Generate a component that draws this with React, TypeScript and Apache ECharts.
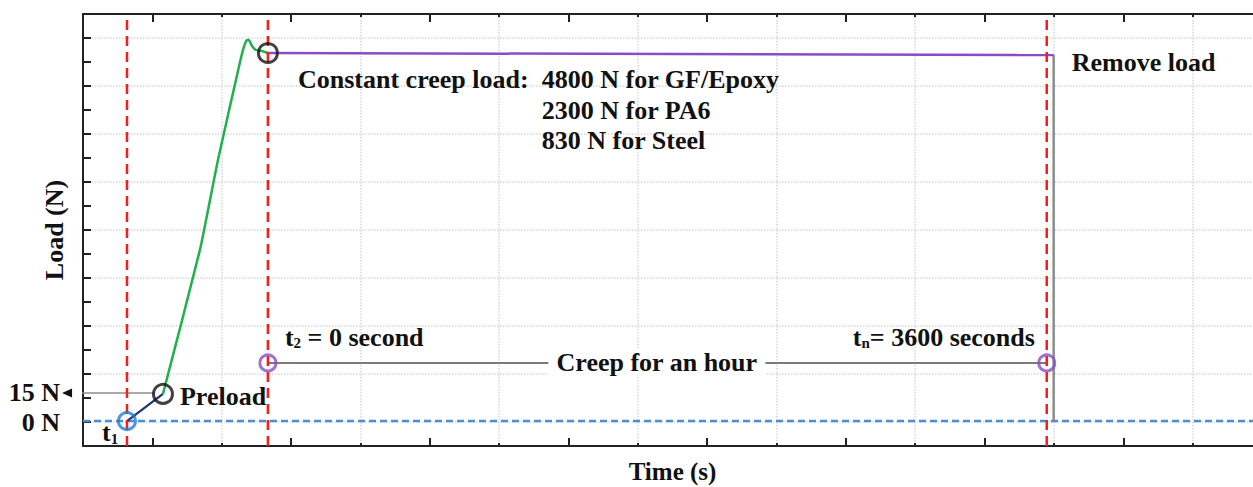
import React, { useEffect, useRef } from "react";
import * as echarts from "echarts";

// ---- axis ranges (schematic units) ----
const X_MAX = 850;
const X_INTERVAL = 100;
const Y_MAX = 18;
const Y_INTERVAL = 2;

// ---- data ----
const markerTimes = [31.7, 133.3, 694.8]; // red dashed verticals
const zeroLoadLevel = 1.04; // 0 N
const preloadX = [31.7, 57.66];
const preloadY = [1.04, 2.17];
const rampX = [57.66, 84.3, 97.3, 113.2, 116.0, 118.2, 119.6, 121.8, 124.7, 129.0, 133.3];
const rampY = [2.17, 8.17, 11.92, 16.0, 16.63, 16.92, 16.92, 16.67, 16.5, 16.46, 16.375];
const holdX = [133.3, 699.8];
const holdY = [16.375, 16.29];
const unloadX = [699.8, 699.8];
const unloadY = [16.29, 1.04];
const creepX = [133.3, 694.8];
const creepLevel = 3.46;
const preloadArrowX = [51.9, -11.5];
const preloadArrowLevel = 2.21;
const blackCircles = [[57.66, 2.17], [133.3, 16.375]];
const blueCircles = [[31.7, 1.04]];
const purpleCircles = [[133.3, 3.46], [694.8, 3.46]];

// ---- annotation texts ----
const annotations = [
  { text: "Constant creep load:", x: 155, y: 15.29, align: "left" },
  { text: "4800 N for GF/Epoxy", x: 330.8, y: 15.29, align: "left" },
  { text: "2300 N for PA6", x: 330.8, y: 14.0, align: "left" },
  { text: "830 N for Steel", x: 330.8, y: 12.71, align: "left" },
  { text: "Remove load", x: 712.8, y: 15.96, align: "left" },
  { text: "{m|t}{s|2}{m| = 0 second}", x: 145.6, y: 4.54, align: "left" },
  { text: "{m|t}{s|n}{m|= 3600 seconds}", x: 555, y: 4.54, align: "left" },
  { text: "Creep for an hour", x: 413.7, y: 3.46, align: "center", bg: true },
  { text: "Preload", x: 69.9, y: 2.08, align: "left" },
  { text: "15 N", x: -16.6, y: 2.21, align: "right" },
  { text: "0 N", x: -16.6, y: 1.0, align: "right" },
  { text: "{m|t}{s|1}", x: 13.7, y: 0.55, align: "left" },
];

const FONT = '"Liberation Serif", "Times New Roman", serif';
const FS = 26;
const zip = (xs: number[], ys: number[]) => xs.map((x, i) => [x, ys[i]]);

export default function App() {
  const ref = useRef<HTMLDivElement>(null);
  useEffect(() => {
    const chart = echarts.init(ref.current!, null, { renderer: "svg" });
    const lineSeries = (data: any[], color: string, width: number, extra: any = {}) => ({
      type: "line",
      data,
      showSymbol: false,
      symbol: "none",
      lineStyle: { color, width },
      clip: false,
      silent: true,
      ...extra,
    });
    const circleSeries = (data: number[][], color: string, size: number) => ({
      type: "scatter",
      data,
      symbol: "circle",
      symbolSize: size,
      itemStyle: { color: "rgba(0,0,0,0)", borderColor: color, borderWidth: 3 },
      z: 10,
      silent: true,
      clip: false,
    });
    const tickAxisCommon = {
      type: "value",
      min: 0,
      max: X_MAX,
      interval: X_INTERVAL,
      axisLabel: { show: false },
      axisLine: { show: true, onZero: false, lineStyle: { color: "#222", width: 2 } },
      axisTick: { show: true, inside: true, length: 3, lineStyle: { color: "#222", width: 2 } },
      minorTick: { show: true, splitNumber: 2, length: 8, lineStyle: { color: "#222", width: 2 } },
    };
    const option: any = {
      animation: false,
      grid: { left: 83, top: 14, right: 0, bottom: 41, containLabel: false, outerBoundsMode: "none" },
      xAxis: [
        {
          ...tickAxisCommon,
          position: "bottom",
          name: "Time (s)",
          nameLocation: "middle",
          nameGap: 13,
          nameTextStyle: {
            fontFamily: FONT,
            fontWeight: "bold",
            fontSize: 25,
            lineHeight: 25,
            color: "#111",
            verticalAlign: "top",
          },
          splitLine: { show: true, lineStyle: { color: "#d6d6d6", type: "dotted", width: 1.5 } },
        },
        {
          ...tickAxisCommon,
          position: "top",
          splitLine: { show: false },
        },
      ],
      yAxis: {
        type: "value",
        min: 0,
        max: Y_MAX,
        interval: Y_INTERVAL,
        name: "Load (N)",
        nameLocation: "middle",
        nameGap: 16,
        nameTextStyle: { fontFamily: FONT, fontWeight: "bold", fontSize: FS, color: "#111" },
        axisLabel: { show: false },
        axisLine: { show: true, lineStyle: { color: "#222", width: 2 } },
        axisTick: { show: true, inside: true, length: 8, lineStyle: { color: "#222", width: 2 } },
        minorTick: { show: true, splitNumber: 2, length: 8, lineStyle: { color: "#222", width: 2 } },
        splitLine: { show: false },
        minorSplitLine: { show: true, lineStyle: { color: "#d6d6d6", type: "dotted", width: 1.5 } },
      },
      series: [
        lineSeries([[0, zeroLoadLevel], [X_MAX, zeroLoadLevel]], "#4a8fd6", 2.5, {
          lineStyle: { color: "#4a8fd6", width: 2.5, type: [7, 4] },
          z: 2,
        }),
        lineSeries(zip(creepX, creepX.map(() => creepLevel)), "#7a7a7a", 2, { z: 3 }),
        lineSeries(zip(unloadX, unloadY), "#8c8c8c", 2.5, { z: 3 }),
        lineSeries(zip(preloadX, preloadY), "#1b3570", 2.2, { z: 4 }),
        lineSeries(zip(rampX, rampY), "#22b04c", 2.5, { smooth: 0.15, z: 4 }),
        lineSeries(zip(holdX, holdY), "#8a4cc6", 2.5, { z: 4 }),
        lineSeries(
          [
            { value: [preloadArrowX[0], preloadArrowLevel], symbol: "none" },
            { value: [preloadArrowX[1], preloadArrowLevel], symbol: "triangle", symbolRotate: 90, symbolSize: [9, 10] },
          ],
          "#8c8c8c",
          1.5,
          { showSymbol: true, symbol: "triangle", itemStyle: { color: "#111" }, z: 5 }
        ),
        ...markerTimes.map((t) =>
          lineSeries([[t, 0], [t, Y_MAX]], "#ff1a1a", 2.5, {
            lineStyle: { color: "#ff1a1a", width: 2.5, type: [10, 6] },
            z: 6,
          })
        ),
        circleSeries(blueCircles, "#1a7fd4", 17),
        circleSeries(blackCircles, "#111111", 19),
        circleSeries(purpleCircles, "#8a4cc6", 16),
      ],
    };
    chart.setOption(option);

    const rich = {
      m: { fontFamily: FONT, fontWeight: "bold", fontSize: FS, fill: "#111" },
      s: { fontFamily: FONT, fontWeight: "bold", fontSize: 15, fill: "#111", padding: [12, 0, 0, 0] },
    };
    const graphic = annotations.map((a: any) => {
      const [px, py] = chart.convertToPixel({ xAxisIndex: 0, yAxisIndex: 0 }, [a.x, a.y]) as number[];
      return {
        type: "text",
        x: px,
        y: py,
        z: 20,
        silent: true,
        style: {
          text: a.text,
          fontFamily: FONT,
          fontWeight: "bold",
          fontSize: FS,
          fill: "#111",
          align: a.align,
          verticalAlign: "middle",
          rich,
          backgroundColor: a.bg ? "#fff" : undefined,
          padding: a.bg ? [0, 8] : undefined,
        },
      };
    });
    chart.setOption({ graphic });
    return () => chart.dispose();
  }, []);
  return (
    <div
      ref={ref}
      style={{ position: "fixed", left: 0, top: 0, width: 1262, height: 487, background: "#fff" }}
    />
  );
}
